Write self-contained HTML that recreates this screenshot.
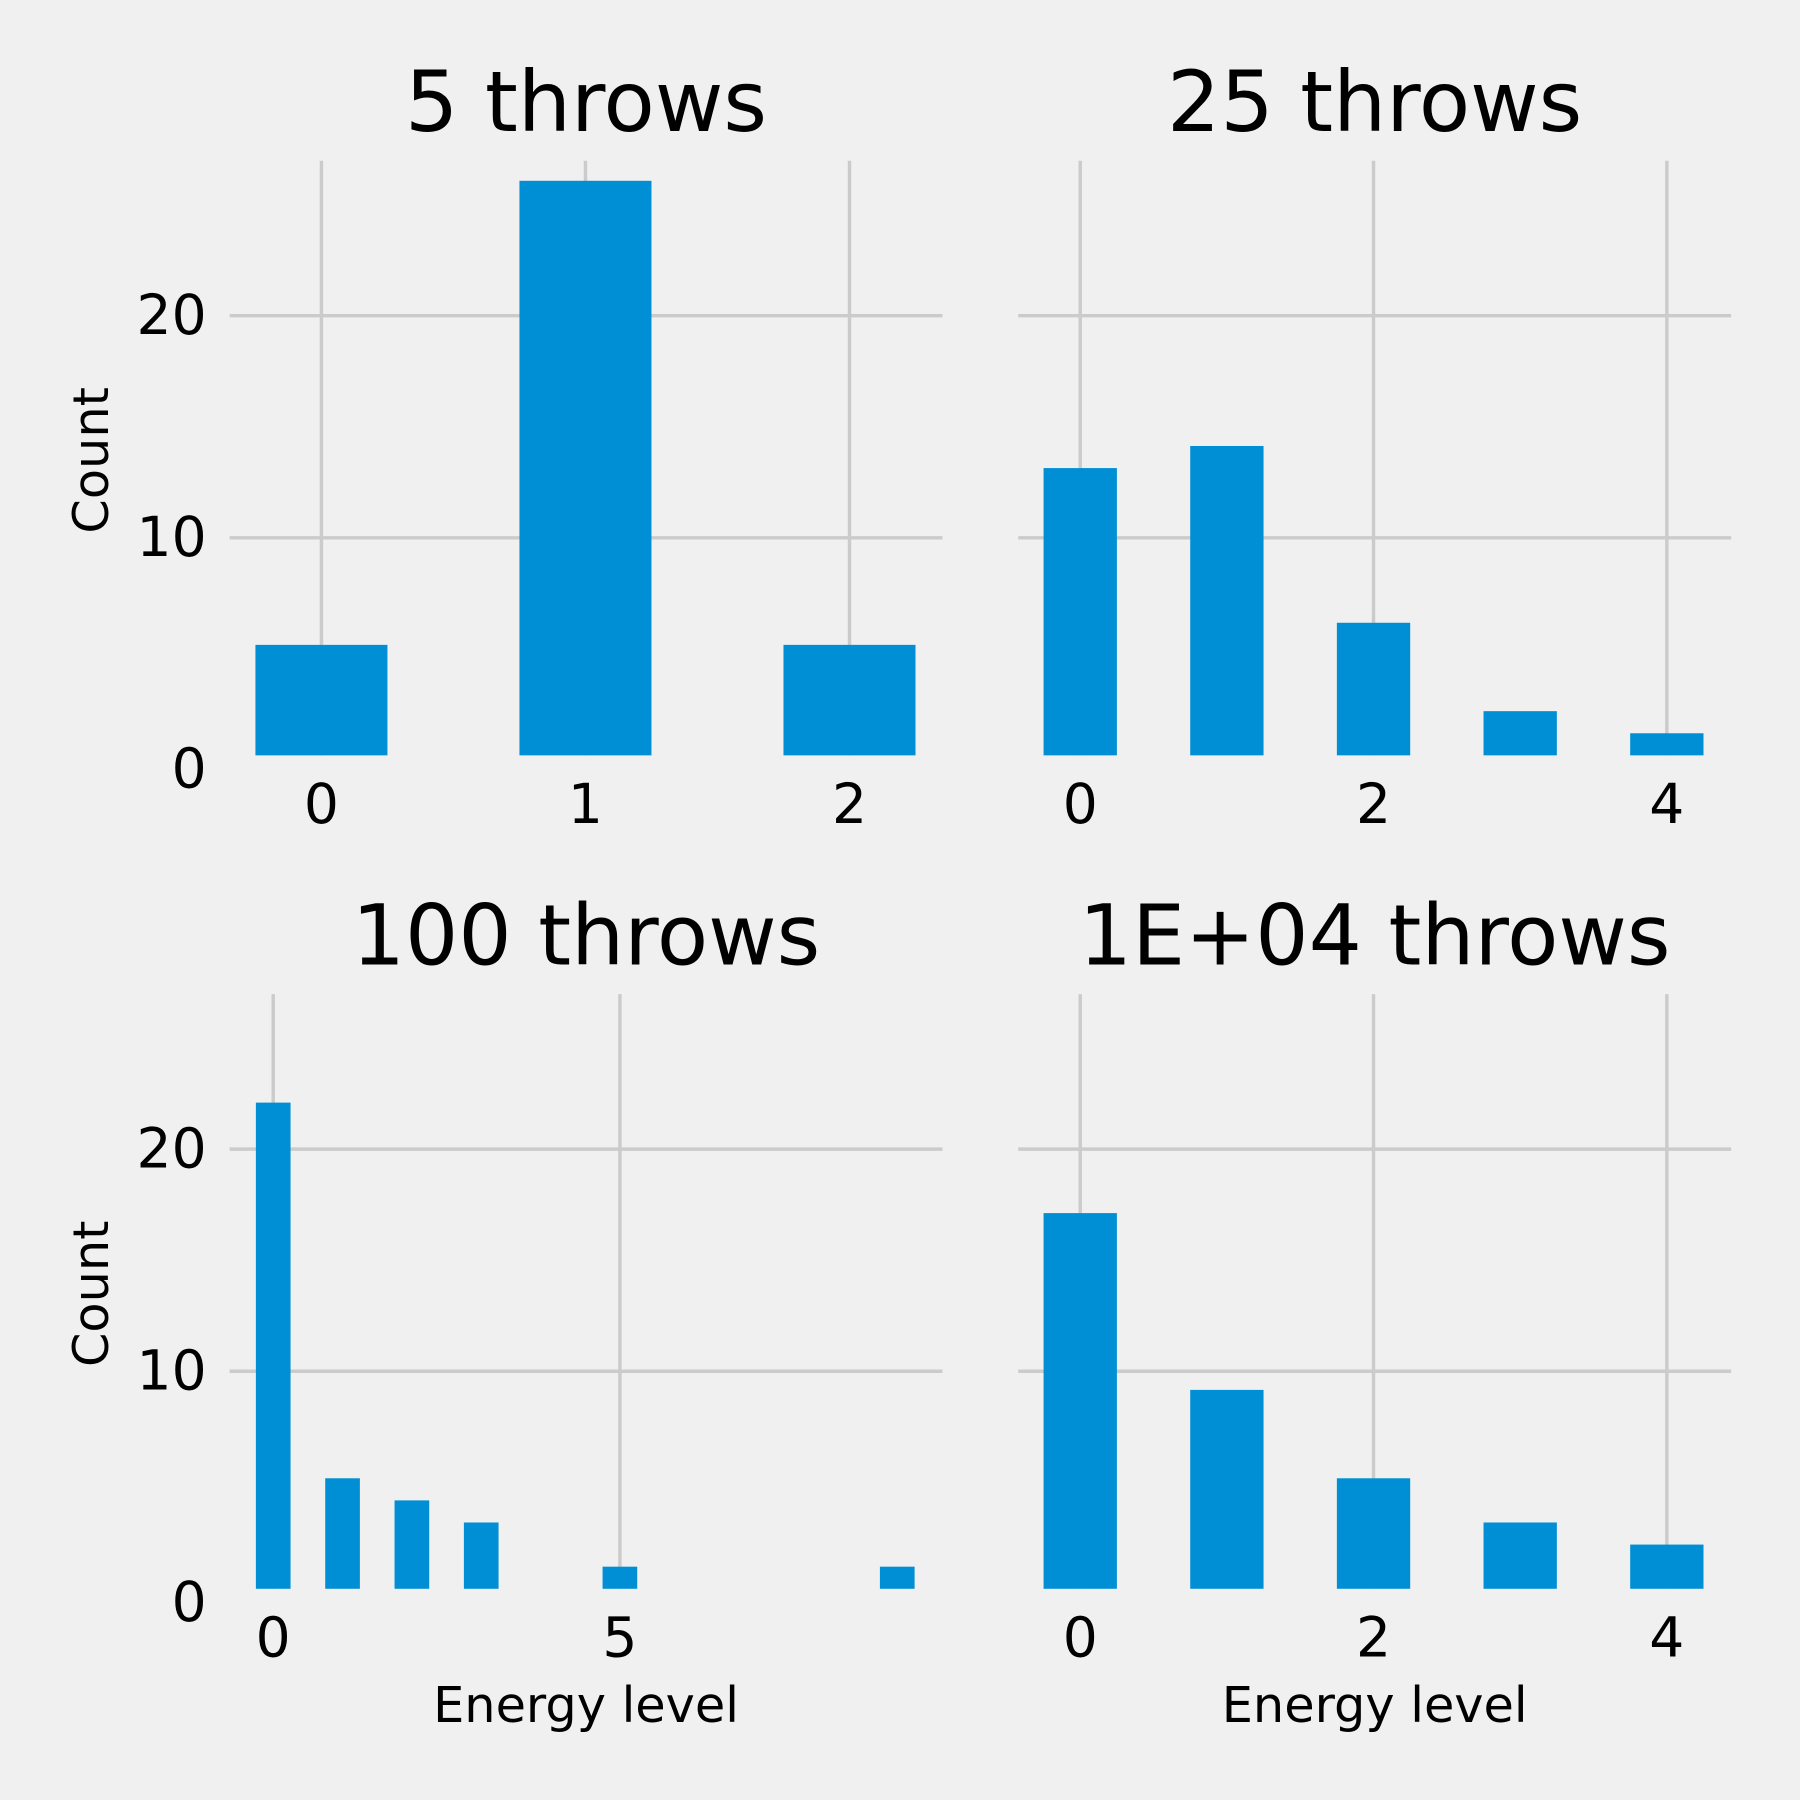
<!DOCTYPE html>
<html><head><meta charset="utf-8"><style>
html,body{margin:0;padding:0;background:#f0f0f0;}
svg{display:block;font-family:"DejaVu Sans","Liberation Sans",sans-serif;}
</style></head><body>
<svg id="chart" width="1800" height="1800" viewBox="0 0 1568 1568" xmlns="http://www.w3.org/2000/svg">
<rect width="1568" height="1568" fill="#f0f0f0"/>
</svg>
<script>
const titles = ["5 throws", "25 throws", "100 throws", "1E+04 throws"];
const cats1 = [0, 1, 2];
const vals1 = [5, 26, 5];
const cats2 = [0, 1, 2, 3, 4];
const vals2 = [13, 14, 6, 2, 1];
const cats3 = [0, 1, 2, 3, 5, 9];
const vals3 = [22, 5, 4, 3, 1, 1];
const cats4 = [0, 1, 2, 3, 4];
const vals4 = [17, 9, 5, 3, 2];
const xticks1 = [0, 1, 2];
const xticks2 = [0, 2, 4];
const xticks3 = [0, 5];
const xticks4 = [0, 2, 4];
const yticks = [0, 10, 20];

const NS = "http://www.w3.org/2000/svg";
const svg = document.getElementById("chart");
function mk(tag, attrs, parent) {
  const e = document.createElementNS(NS, tag);
  for (const k in attrs) e.setAttribute(k, attrs[k]);
  (parent || svg).appendChild(e);
  return e;
}
const panels = [
  {title: titles[0], cats: cats1, vals: vals1, xt: xticks1, left: 200, right: 821, y0: 661, x0px: 280, ppu: 230, ylab: true, xlab: false},
  {title: titles[1], cats: cats2, vals: vals2, xt: xticks2, left: 887, right: 1508, y0: 661, x0px: 941, ppu: 127.75, ylab: false, xlab: false},
  {title: titles[2], cats: cats3, vals: vals3, xt: xticks3, left: 200, right: 821, y0: 1387, x0px: 238, ppu: 60.4, ylab: true, xlab: true},
  {title: titles[3], cats: cats4, vals: vals4, xt: xticks4, left: 887, right: 1508, y0: 1387, x0px: 941, ppu: 127.75, ylab: false, xlab: true}
];
const YPU = 19.35;
const BPU = 19.25;
panels.forEach((p, i) => {
  const g = mk("g", {});
  
  
  const xs = v => p.x0px + v * p.ppu;
  const ys = v => p.y0 - v * YPU;
  const top = p.y0 - 521;
  yticks.forEach(t => {
    if (t === 0) return;
    const l = mk("line", {x1: p.left, x2: p.right, y1: ys(t) + 1, y2: ys(t) + 1, stroke: "#cbcbcb", "stroke-width": 3}, g);
    
    
  });
  p.xt.forEach(t => {
    const l = mk("line", {x1: xs(t), x2: xs(t), y1: top, y2: p.y0 - 3, stroke: "#cbcbcb", "stroke-width": 3}, g);
    
    
  });
  const base = p.y0 - 3;
  p.cats.forEach((c, j) => {
    const w = 0.5 * p.ppu;
    const h = p.vals[j] * BPU;
    const r = mk("rect", {x: xs(c) - w / 2, y: base - h, width: w, height: h, fill: "#008fd5"}, g);
    
    
  });
  p.xt.forEach(t => {
    const tx = mk("text", {x: xs(t), y: p.y0 + 56, "font-size": 48, "text-anchor": "middle", fill: "#000"}, g);
    tx.textContent = t;
    
    
  });
  if (p.ylab) {
    yticks.forEach(t => {
      const tx = mk("text", {x: 180, y: ys(t) + 17 + (t === 0 ? 8 : 0), "font-size": 48, "text-anchor": "end", fill: "#000"}, g);
      tx.textContent = t;
      
      
    });
    const cy = top + 261;
    const yl = mk("text", {x: 94, y: cy, "font-size": 43, "text-anchor": "middle", fill: "#000", transform: `rotate(-90 94 ${cy})`}, g);
    yl.textContent = "Count";
    
    
  }
  if (p.xlab) {
    const xl = mk("text", {x: (p.left + p.right) / 2, y: p.y0 + 113, "font-size": 43, "text-anchor": "middle", fill: "#000"}, g);
    xl.textContent = "Energy level";
    
    
  }
  const tt = mk("text", {x: (p.left + p.right) / 2, y: top - 26, "font-size": 73, "text-anchor": "middle", fill: "#000"}, g);
  tt.textContent = p.title;
  
  
});
</script>
</body></html>
